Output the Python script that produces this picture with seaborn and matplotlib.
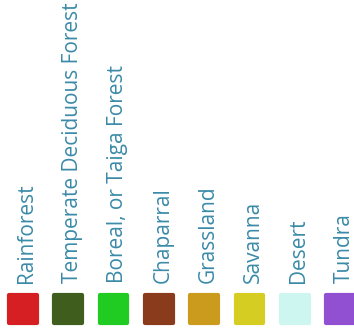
import matplotlib
matplotlib.use("Agg")
import matplotlib.pyplot as plt
import seaborn as sns
import pandas as pd

biomes = ["Rainforest", "Temperate Deciduous Forest", "Boreal, or Taiga Forest",
          "Chaparral", "Grassland", "Savanna", "Desert", "Tundra"]
colors = ["#d61f22", "#3f5e1d", "#20cc22", "#8a3b1c",
          "#cb9b1d", "#d5cd22", "#cdf6f1", "#9150d2"]

df = pd.DataFrame({"biome": biomes, "pos": range(len(biomes))})

sns.set_style("white")
plt.rcParams["font.family"] = ["Open Sans", "DejaVu Sans"]

fig = plt.figure(figsize=(3.54, 3.34), dpi=100)
ax = fig.add_axes([0, 0, 1, 1])

# swatch row near the bottom, labels stand upright above it
SWATCH_Y = 309
LABEL_Y = 283
STEP = 45.3

sns.scatterplot(data=df, x="pos", y=[SWATCH_Y] * len(df), hue="biome",
                palette=dict(zip(biomes, colors)), marker="s", s=400,
                linewidth=3, edgecolor=colors, legend=False, ax=ax)
# soften swatch corners
ax.collections[0].set_joinstyle("round")

for i, name in enumerate(biomes):
    ax.text(i + 4 / STEP, LABEL_Y, name, rotation=90, ha="center", va="bottom",
            fontsize=15, color="#3a8aa8")

ax.set_xlim(-23 / STEP, (354 - 23) / STEP)
ax.set_ylim(334, 0)
ax.axis("off")
fig.patch.set_facecolor("white")
fig.savefig("out.png", dpi=100)
